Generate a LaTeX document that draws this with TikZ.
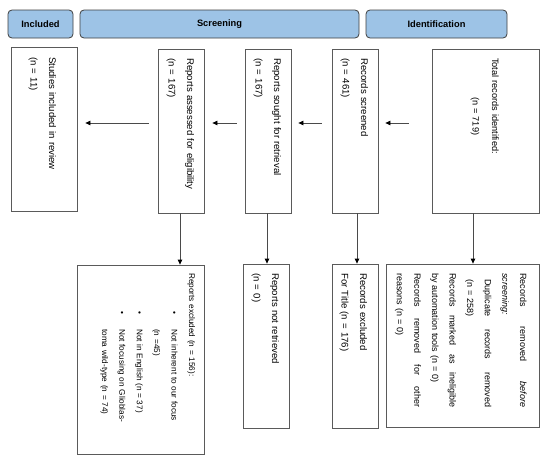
\documentclass[tikz,border=0pt]{standalone}
\usepackage{fontspec}
\setmainfont{Liberation Sans}
\usetikzlibrary{arrows.meta}
\definecolor{hdrfill}{HTML}{9DC3E6}
\definecolor{hdrline}{HTML}{3F3F3F}
\definecolor{boxline}{HTML}{5A5A5A}
\definecolor{txtcol}{HTML}{000000}
\definecolor{arrline}{HTML}{4A4A4A}
\begin{document}
\begin{tikzpicture}[x=1pt,y=-1pt,
  hdr/.style={draw=hdrline, line width=0.8pt, fill=hdrfill, rounded corners=4pt,
    inner sep=0pt, minimum height=28pt, font=\fontsize{9.3}{11}\selectfont\bfseries, text=txtcol},
  box/.style={draw=boxline, line width=0.8pt, inner sep=0pt, fill=white},
  txt/.style={rotate=-90, anchor=base west, inner sep=0pt, align=left, text=txtcol,
    font=\fontsize{9.6}{18.3}\selectfont},
  arr/.style={draw=arrline, line width=0.8pt, -{Triangle[length=5pt,width=4.5pt,color=black]}}
]
\useasboundingbox (0,0) rectangle (550,463);

% header bars
\node[hdr, minimum width=65pt] (inc) at (40.5,24) {Included};
\node[hdr, minimum width=279pt] (scr) at (219.5,24) {Screening};
\node[hdr, minimum width=141pt] (idf) at (436.5,24) {Identification};

% top row boxes
\node[box, minimum width=66pt, minimum height=164pt] (studies) at (44,129) {};
\node[box, minimum width=46pt, minimum height=164pt] (assessed) at (181,131) {};
\node[box, minimum width=46pt, minimum height=164pt] (sought) at (268,131) {};
\node[box, minimum width=46pt, minimum height=164pt] (screened) at (355,131) {};
\node[box, minimum width=107pt, minimum height=164pt] (total) at (485.5,131) {};

% bottom row boxes
\node[box, minimum width=127pt, minimum height=189pt] (excl) at (140.5,359.5) {};
\node[box, minimum width=46pt, minimum height=164pt] (notret) at (266,346) {};
\node[box, minimum width=46pt, minimum height=164pt] (recexcl) at (355,346) {};
\node[box, minimum width=153pt, minimum height=163pt] (removed) at (462.5,345.5) {};

% texts (rotated, reading top to bottom)
\node[txt, text width=150pt] (studies-t) at (49,57) {Studies included in review\\(n = 11)};
\node[txt, text width=150pt] (assessed-t) at (187,58) {Reports assessed for eligibility\\(n = 167)};
\node[txt, text width=150pt] (sought-t) at (274,58) {Reports sought for retrieval\\(n = 167)};
\node[txt, text width=150pt] (screened-t) at (361,58) {Records screened\\(n = 461)};
\node[txt, text width=150pt, font=\fontsize{9.2}{19.5}\selectfont] (total-t) at (492,58) {Total records identified:\\\hspace*{39pt}(n = 719)};

\node[txt, text width=175pt, font=\fontsize{8.2}{17.4}\selectfont] (excl-t) at (189,273)
 {Reports excluded (n = 156):\\
  \hspace*{38pt}\makebox[18pt][l]{\textbullet}Not inherent to our focus\\
  \hspace*{56pt}(n =45)\\
  \hspace*{38pt}\makebox[18pt][l]{\textbullet}Not in English (n = 37)\\
  \hspace*{38pt}\makebox[18pt][l]{\textbullet}Not focusing on Glioblas-\\
  \hspace*{56pt}toma wild-type (n = 74)};
\node[txt, text width=150pt] (notret-t) at (272,273) {Reports not retrieved\\(n = 0)};
\node[txt, text width=150pt] (recexcl-t) at (360,273) {Records excluded\\For Title (n = 176)};
\node[txt, text width=134pt, font=\fontsize{9}{17.6}\selectfont] (removed-t) at (520,273)
 {Records\hfill removed\hfill \textit{before}\\
  \textit{screening:}\\
  \hspace*{6pt}Duplicate\hfill records\hfill removed\\
  \hspace*{6pt}(n = 258)\\
  Records\hfill marked\hfill as\hfill ineligible\\
  by automation tools (n = 0)\\
  Records\hfill removed\hfill for\hfill other\\
  reasons (n = 0)};

% connectors
\coordinate (row) at (0,123);
\draw[arr, shorten <=9pt, shorten >=8pt] (assessed.west |- row) -- (studies.east |- row);
\draw[arr, shorten <=8pt, shorten >=8pt] (sought.west |- row) -- (assessed.east |- row);
\draw[arr, shorten <=10pt, shorten >=7pt] (screened.west |- row) -- (sought.east |- row);
\draw[arr, shorten <=23pt, shorten >=7pt] (total.west |- row) -- (screened.east |- row);

\coordinate (c1) at (180,0);
\coordinate (c2) at (267,0);
\coordinate (c3) at (357,0);
\coordinate (c4) at (473,0);
\draw[arr] (assessed.south -| c1) -- (excl.north -| c1);
\draw[arr] (sought.south -| c2) -- (notret.north -| c2);
\draw[arr] (screened.south -| c3) -- (recexcl.north -| c3);
\draw[arr] (total.south -| c4) -- (removed.north -| c4);
\end{tikzpicture}
\end{document}
